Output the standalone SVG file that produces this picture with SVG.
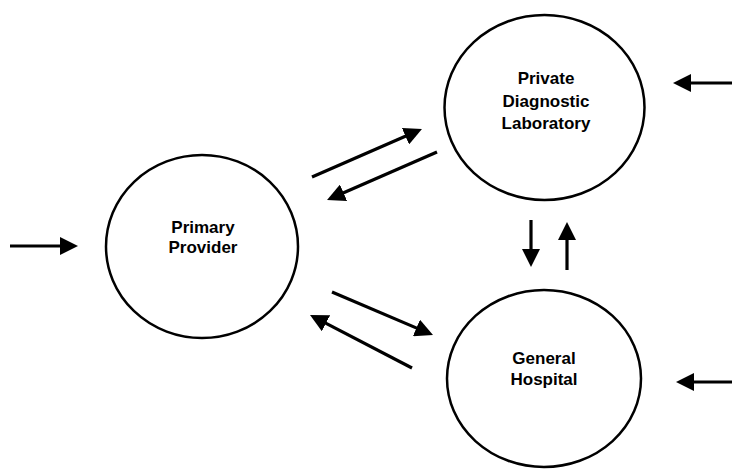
<svg xmlns="http://www.w3.org/2000/svg" width="732" height="472" viewBox="0 0 732 472">
  <style>
    .node { fill: #ffffff; stroke: #000000; stroke-width: 2.5; }
    .label { font-family: "Liberation Sans", Arial, sans-serif; font-size: 17px; font-weight: bold; fill: #000000; text-anchor: middle; }
    .flow { stroke: #000000; stroke-width: 3.2; fill: none; marker-end: url(#head); }
  </style>
  <defs>
    <!-- filled triangular arrowhead; tip sits 10px beyond the line end -->
    <marker id="head" markerUnits="userSpaceOnUse" markerWidth="18" markerHeight="18" refX="8" refY="9" orient="auto">
      <path d="M0,0 L18,9 L0,18 Z" fill="#000000"/>
    </marker>
  </defs>
  <rect width="732" height="472" fill="#ffffff"/>

  <g id="primary-provider">
    <ellipse class="node" cx="202" cy="246.5" rx="96" ry="91.5"/>
    <text class="label" x="203" y="233">Primary</text>
    <text class="label" x="203" y="253">Provider</text>
  </g>

  <g id="private-diagnostic-laboratory">
    <ellipse class="node" cx="544.5" cy="107.5" rx="100" ry="92.5"/>
    <text class="label" x="546" y="84">Private</text>
    <text class="label" x="546" y="107">Diagnostic</text>
    <text class="label" x="546" y="129">Laboratory</text>
  </g>

  <g id="general-hospital">
    <ellipse class="node" cx="544" cy="378.5" rx="97" ry="88.5"/>
    <text class="label" x="544" y="364">General</text>
    <text class="label" x="544" y="385">Hospital</text>
  </g>

  <g id="connectors">
    <line class="flow" x1="10" y1="246" x2="68" y2="246"/>
    <line class="flow" x1="312" y1="177" x2="412.8" y2="133"/>
    <line class="flow" x1="437" y1="152" x2="336.2" y2="196"/>
    <line class="flow" x1="332" y1="292" x2="423.8" y2="331.1"/>
    <line class="flow" x1="412" y1="368" x2="318.9" y2="319.6"/>
    <line class="flow" x1="531" y1="220" x2="531" y2="257"/>
    <line class="flow" x1="567" y1="270" x2="567" y2="232"/>
    <line class="flow" x1="732" y1="83" x2="683" y2="83"/>
    <line class="flow" x1="732" y1="382" x2="686" y2="382"/>
  </g>
</svg>
